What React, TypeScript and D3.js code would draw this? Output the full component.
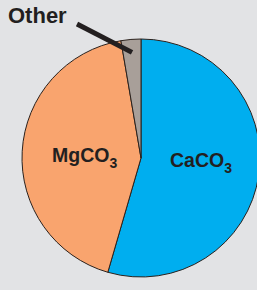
import * as d3 from 'd3';
import React from 'react';

const categories = ['CaCO3', 'MgCO3', 'Other'];
const values = [54.5, 42.8, 2.7];
const colors = ['#00aeef', '#f9a46e', '#a89f99'];

const width = 257;
const height = 290;
const cx = 141;
const cy = 158;
const radius = 119;

const App = () => {
  const pie = d3
    .pie<number>()
    .sort(null)
    .value((d) => d);
  const arcs = pie(values);

  const arc = d3.arc<d3.PieArcDatum<number>>().innerRadius(0).outerRadius(radius);
  const pointer = d3.arc<d3.PieArcDatum<number>>().innerRadius(106).outerRadius(106);

  const otherEnd = pointer.centroid(arcs[2]);

  return (
    <svg
      width={width}
      height={height}
      style={{ position: 'absolute', left: 0, top: 0, background: '#e2e3e5' }}
      fontFamily="'Liberation Sans', Arial, sans-serif"
      fontWeight="bold"
    >
      <rect width={width} height={height} fill="#e2e3e5" />
      <g transform={`translate(${cx},${cy})`}>
        {arcs.map((a, i) => (
          <path
            key={categories[i]}
            d={arc(a) as string}
            fill={colors[i]}
            stroke="#2b211c"
            strokeWidth={1}
          />
        ))}
        <line
          x1={77 - cx}
          y1={24 - cy}
          x2={otherEnd[0]}
          y2={otherEnd[1]}
          stroke="#231f20"
          strokeWidth={5}
        />
      </g>
      <text x={8} y={23} fontSize={22} fill="#231f20">
        Other
      </text>
      <text x={52} y={162} fontSize={19.5} fill="#231f20">
        MgCO<tspan fontSize={14} dy={6}>3</tspan>
      </text>
      <text x={170} y={167} fontSize={19.5} fill="#231f20">
        CaCO<tspan fontSize={14} dy={6}>3</tspan>
      </text>
    </svg>
  );
};

export default App;
